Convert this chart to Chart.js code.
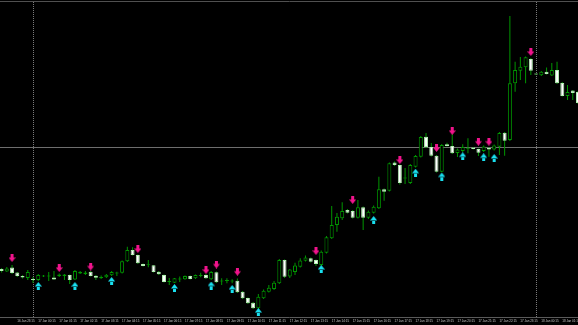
<!DOCTYPE html>
<html>
<head>
<meta charset="utf-8">
<script src="https://cdn.jsdelivr.net/npm/chart.js@4.4.1/dist/chart.umd.min.js"></script>
<style>
  html, body { margin: 0; padding: 0; background: #000; }
  #wrap { width: 578px; height: 325px; }
</style>
</head>
<body>
<div id="wrap"><canvas id="priceChart" width="578" height="325"></canvas></div>
<script>
// --- Data (M15 bars, price in points above the window low) ---
const opens = [48,45.5,49.5,44.5,41,39,37.5,37,40.5,40.5,
  39.5,41,41,42,37.5,43.5,43,45.3,41.3,39,
  39.7,41.7,43.5,44.3,55.7,67,62,53,51.7,51.7,
  45.3,42,35,34.3,37.5,37.7,41,38.7,41,42,
  37.7,44.7,35.5,36,35.5,36.3,25.3,19,14.3,8.7,
  18.7,25.3,28,33.7,57,40.5,45,50.3,56.2,58.7,
  57,52,64.3,78.7,92,98.7,107,106,99.3,109.7,
  99.3,104.3,108.7,127.7,126.3,154.5,152,138.5,134,150.3,
  160.3,180.3,170,161.3,145.3,172.7,171,164,166,168.2,
  169.5,168,166,169,167.5,170.3,184.3,177,233.7,246.3,
  249.7,258,243,241.7,245.3,241.5,247,234,221,226.5,
  225];
const highs = [49,50,52,45,42,47,40,43,42,45,
  46,43.5,43,42.5,47,46,46,46,42,41.5,
  43,46,45.3,56.5,70.3,69.7,62.5,53.5,57,52,
  46,42.5,39,39,40.5,41.5,41.5,42.5,44.3,43,
  46,45.5,38.7,38.7,37.7,38.5,26,19.5,15,23,
  27.5,32,36,58,57.5,48,54.3,58.7,61.5,59.5,
  57.5,66.5,81,111,104,114.7,108,107,117,110.5,
  106.5,111.5,140.3,128.5,154.5,155.5,152.5,149,153,162,
  181,184,174,162,173,174.3,183,168.5,172.7,178.7,
  170,168.5,171.5,169.5,172.5,185,185,301,255.3,260,
  260.5,259,243.5,246,249.5,254,255.3,235,232,227,
  226];
const lows = [44.5,45,43,40,38.5,37,34,36,40,36,
  37,40,37,33,37,43,42,40.5,37,38,
  39,41,41,43.5,55,61.5,53,50.5,49.7,44.5,
  42,34.5,32,34,35,37.2,37.5,38,39.7,38,
  37,34,32,33.7,33.7,24,18,13,8,8,
  18,24.5,27,33,39,39,42,49.5,55.5,54.5,
  51,51,63.5,78,85.3,97,103.5,98.5,98.5,87,
  98,103.5,108,116.3,125.5,151,132.5,133,133,149.5,
  159.5,169,160.5,144.5,144.5,170.5,163,160,165,163.7,
  167.5,161,165,160.3,166.5,162,161.3,176,225.3,237,
  233.7,242,242,241,242.5,241,233,220.5,217,217,
  213];
const closes = [46,48.5,44,41,39.5,45,37,42,41.5,41.5,
  37.5,42.5,42.5,37,46,45,44.5,41,39.3,40,
  42.3,45,44,55.7,67,62,53.7,51,52.7,45,
  42.7,35,36,38.7,38.5,41,38,42,42,38.7,
  45,34.7,36.5,37,36.5,24.7,18.7,13.7,8.7,20.3,
  26.3,29.3,34.3,57,40.3,47.5,51.5,56.5,59.5,55.3,
  53,65.3,79.7,92,100.3,106,104.3,99.3,109.7,99.3,
  105.3,110.3,127.7,125.3,153.7,152,134,139,152,161,
  180,170,161.3,145.3,172,171,163.7,167.5,170,169.2,
  168,164.3,170.5,167.5,171.5,184,176.3,233.7,247,250.3,
  259.7,246.3,242.5,245.3,243,247,233.7,221,225,224,
  214];

// signal arrows: bar index + level
const sellIdx = [2,11,17,26,39,41,45,60,67,76,83,86,91,93,101];
const sellLevel = [59,49,50.5,68,47,52.5,45.3,66,117,157,169,186,175.3,175.3,265];
const buyIdx = [7,14,21,33,40,44,49,61,71,79,84,88,92,94];
const buyLevel = [31,31,36,29,31.5,28,5,48,97,144.3,140.5,160.7,159.7,159];

// time axis
const tickIdx = [3,7,11,15,19,23,27,31,35,39,43,47,51,55,59,63,67,71,75,79,83,87,91,95,99,103,107];
const tickLabels = ['16 Jan 23:15','17 Jan 00:15','17 Jan 01:15','17 Jan 02:15','17 Jan 03:15',
  '17 Jan 04:15','17 Jan 05:15','17 Jan 06:15','17 Jan 07:15','17 Jan 08:15','17 Jan 09:15',
  '17 Jan 10:15','17 Jan 11:15','17 Jan 12:15','17 Jan 13:15','17 Jan 14:15','17 Jan 15:15',
  '17 Jan 16:15','17 Jan 17:15','17 Jan 18:15','17 Jan 19:15','17 Jan 20:15','17 Jan 21:15',
  '17 Jan 22:15','17 Jan 23:15','18 Jan 00:15','18 Jan 01:15'];
const separatorIdx = [6, 102];   // day separators
const levelLine = 170;           // horizontal line

// --- Warna ---
const GREEN = '#009600';
const BEAR_EDGE = '#b4f0b4';
const PINK = '#f0148c';
const CYAN = '#19e0f0';

// arrow glyphs
function makeArrow(color, down) {
  const c = document.createElement('canvas');
  c.width = 7; c.height = 8;
  const g = c.getContext('2d');
  g.fillStyle = color;
  g.beginPath();
  if (down) {
    g.rect(2, 0, 3, 4);
    g.moveTo(0, 3.5); g.lineTo(7, 3.5); g.lineTo(3.5, 8); g.closePath();
  } else {
    g.rect(2, 4, 3, 4);
    g.moveTo(0, 4.5); g.lineTo(7, 4.5); g.lineTo(3.5, 0); g.closePath();
  }
  g.fill();
  return c;
}

// no label overflow padding, fixed box size
function fixBox(size) {
  return s => {
    s.paddingLeft = 0; s.paddingRight = 0; s.paddingTop = 0; s.paddingBottom = 0;
    if (s.isHorizontal()) s.height = size; else s.width = size;
  };
}

const idx = opens.map((_, i) => i);
const bull = idx.map(i => closes[i] >= opens[i]);

const chart = new Chart(document.getElementById('priceChart'), {
  type: 'bar',
  data: {
    datasets: [
      {
        type: 'line', label: 'sell', showLine: false,
        data: sellIdx.map((x, k) => ({ x: x, y: sellLevel[k] })),
        pointStyle: makeArrow(PINK, true), pointRadius: 4
      },
      {
        type: 'line', label: 'buy', showLine: false,
        data: buyIdx.map((x, k) => ({ x: x, y: buyLevel[k] })),
        pointStyle: makeArrow(CYAN, false), pointRadius: 4
      },
      {
        label: 'body',
        data: idx.map(i => ({ x: i, y: [opens[i], closes[i]] })),
        backgroundColor: idx.map(i => bull[i] ? '#000000' : '#ffffff'),
        borderColor: idx.map(i => bull[i] ? GREEN : BEAR_EDGE),
        borderWidth: 1, borderSkipped: false, inflateAmount: 0,
        grouped: false, barPercentage: 1, categoryPercentage: 1,
        maxBarThickness: 4, minBarLength: 1
      },
      {
        label: 'wick',
        data: idx.map(i => ({ x: i, y: [lows[i], highs[i]] })),
        backgroundColor: GREEN, borderWidth: 0, inflateAmount: 0,
        grouped: false, barPercentage: 1, categoryPercentage: 1,
        maxBarThickness: 1
      }
    ]
  },
  options: {
    responsive: false,
    devicePixelRatio: 1,
    animation: false,
    layout: { padding: 0, autoPadding: false },
    plugins: { legend: { display: false }, tooltip: { enabled: false } },
    scales: {
      x: {
        type: 'linear', position: 'bottom', min: -0.3, max: 110, offset: false,
        afterBuildTicks: s => { s.ticks = tickIdx.map(v => ({ value: v })); },
        afterFit: fixBox(8),
        grid: { display: false, drawTicks: false, offset: false },
        border: { display: true, color: '#5a5a5a' },
        ticks: {
          autoSkip: false, maxRotation: 0, align: 'start', padding: 2,
          color: '#c8c8c8',
          font: { family: 'Liberation Sans Narrow, Liberation Sans', size: 3 },
          callback: v => tickLabels[tickIdx.indexOf(v)]
        }
      },
      x2: {
        type: 'linear', position: 'top', min: -0.3, max: 110, offset: false,
        afterBuildTicks: s => { s.ticks = separatorIdx.map(v => ({ value: v })); },
        afterFit: fixBox(1),
        grid: { color: '#7a7a7a', drawTicks: false, offset: false },
        border: { display: true, color: '#505050', dash: [1, 1] },
        ticks: { display: false }
      },
      y: {
        type: 'linear', min: 0, max: 316,
        afterBuildTicks: s => { s.ticks = [{ value: levelLine }]; },
        afterFit: fixBox(0),
        grid: { color: '#6e6e6e', drawTicks: false },
        border: { display: false },
        ticks: { display: false }
      }
    }
  }
});
</script>
</body>
</html>
